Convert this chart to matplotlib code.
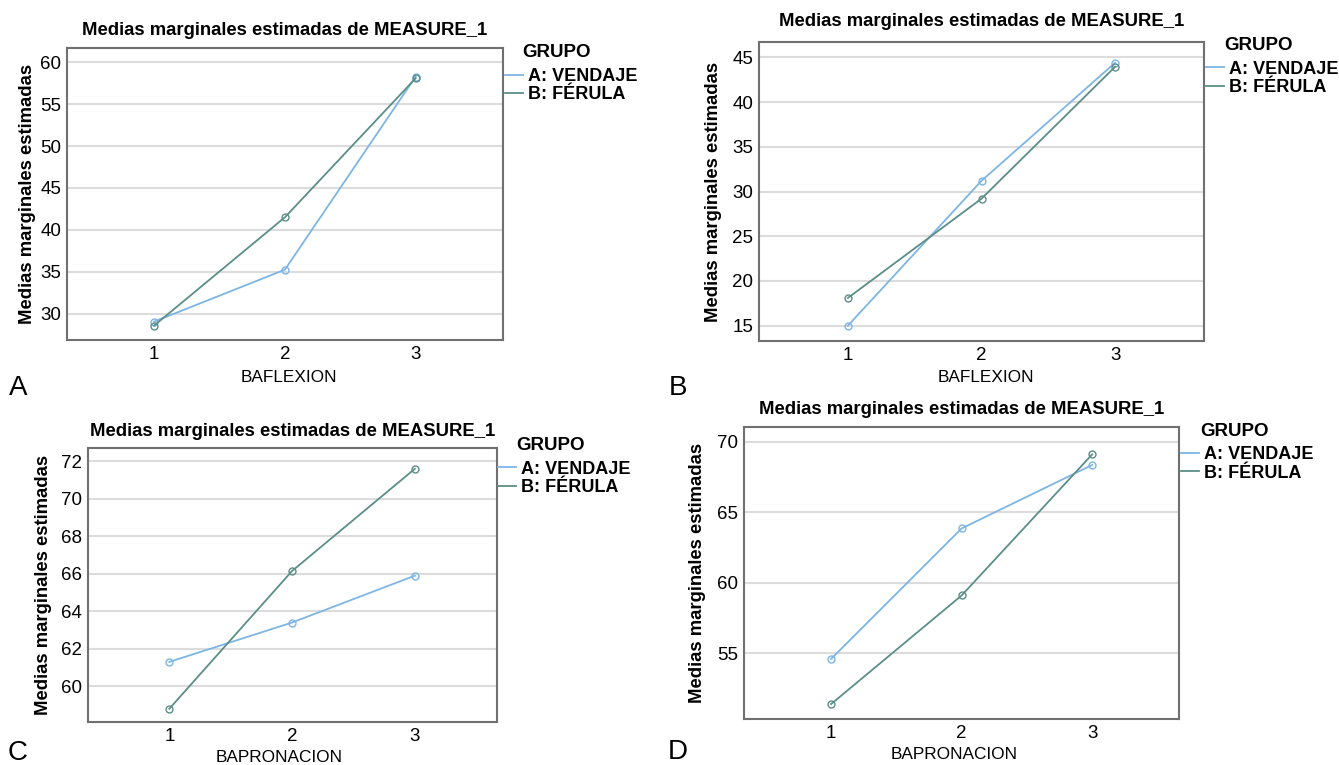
import matplotlib
matplotlib.use("Agg")
import matplotlib.pyplot as plt
from matplotlib.lines import Line2D

plt.rcParams['font.family'] = ['Liberation Sans', 'DejaVu Sans']

# niveles del factor (1, 2, 3)
niveles = [1, 2, 3]
grupos = ['A: VENDAJE', 'B: FÉRULA']

# medias marginales estimadas
a_vendaje = [29.05, 35.25, 58.3]
a_ferula = [28.57, 41.5, 58.1]
b_vendaje = [15.0, 31.2, 44.4]
b_ferula = [18.1, 29.2, 43.95]
c_vendaje = [61.3, 63.4, 65.9]
c_ferula = [58.8, 66.15, 71.6]
d_vendaje = [54.6, 63.85, 68.35]
d_ferula = [51.4, 59.1, 69.1]

ticks_a = [30, 35, 40, 45, 50, 55, 60]
ticks_b = [15, 20, 25, 30, 35, 40, 45]
ticks_c = [60, 62, 64, 66, 68, 70, 72]
ticks_d = [55, 60, 65, 70]

titulo = 'Medias marginales estimadas de MEASURE_1'
ylabel = 'Medias marginales estimadas'

COL_VEND = '#7db5e5'
COL_FER = '#5b8e87'
W, H = 1339, 765

fig = plt.figure(figsize=(W / 100, H / 100), dpi=100)


def ax_px(left, top, right, bottom):
    """crea un eje a partir de coordenadas en píxeles"""
    return fig.add_axes([left / W, (H - bottom) / H, (right - left) / W, (bottom - top) / H])


def panel(ax, vend, fer, ticks, ylim, xlabel, title_pad,
          ylab_x, xlab_xy, grupo_xy, leg_xy, letra, letra_xy):
    ax.plot(niveles, vend, color=COL_VEND, lw=1.3, marker='o', ms=5,
            mfc='none', mew=1.0, zorder=3)
    ax.plot(niveles, fer, color=COL_FER, lw=1.3, marker='o', ms=5,
            mfc='none', mew=1.0, zorder=3)

    ax.set_xlim(0.335, 3.667)
    ax.set_ylim(*ylim)
    ax.set_xticks(niveles)
    ax.set_yticks(ticks)
    ax.tick_params(length=0, labelsize=13.5, pad=4.3)
    ax.grid(axis='y', color='#dcdcdc', lw=1.5)
    ax.set_axisbelow(True)
    for s in ax.spines.values():
        s.set_color('#707070')
        s.set_linewidth(1.5)

    ax.set_title(titulo, fontsize=13.3, fontweight='bold', pad=title_pad)
    ax.set_ylabel(ylabel, fontsize=13.3, fontweight='bold')
    ax.yaxis.set_label_coords(ylab_x, 0.5)
    ax.set_xlabel(xlabel, fontsize=12.4)
    ax.xaxis.set_label_coords(*xlab_xy)

    ax.text(grupo_xy[0], grupo_xy[1], 'GRUPO', transform=ax.transAxes,
            fontsize=13.5, fontweight='bold', ha='left', va='center')
    # la leyenda solo muestra líneas, sin marcadores
    handles = [Line2D([], [], color=COL_VEND, lw=1.3),
               Line2D([], [], color=COL_FER, lw=1.3)]
    ax.legend(handles, grupos, loc='upper left', bbox_to_anchor=leg_xy,
              frameon=False, borderpad=0, borderaxespad=0, labelspacing=0.08,
              handlelength=1.0, handletextpad=0.3,
              prop={'size': 13, 'weight': 'bold'})

    fig.text(letra_xy[0] / W, 1 - letra_xy[1] / H, letra, fontsize=20,
             ha='center', va='center')


ax_a = ax_px(67, 47.7, 503, 340)
panel(ax_a, a_vendaje, a_ferula, ticks_a, (26.86, 61.74), 'BAFLEXION', 8.9,
      -0.072, (0.508, -0.103), (1.0436, 0.982), (1.0046, 0.9305), 'A', (18, 388))

ax_b = ax_px(759, 42.3, 1204.3, 341)
panel(ax_b, b_vendaje, b_ferula, ticks_b, (13.29, 46.68), 'BAFLEXION', 11.7,
      -0.084, (0.509, -0.097), (1.0442, 0.988), (1.0038, 0.938), 'B', (678, 388))

ax_c = ax_px(87.7, 448, 496.7, 721.7)
panel(ax_c, c_vendaje, c_ferula, ticks_c, (58.11, 72.71), 'BAPRONACION', 8.6,
      -0.0885, (0.469, -0.103), (1.0489, 1.008), (1.0032, 0.9536), 'C', (18, 753))

ax_d = ax_px(744.3, 426.7, 1179.3, 719.3)
panel(ax_d, d_vendaje, d_ferula, ticks_d, (50.32, 71.06), 'BAPRONACION', 8.9,
      -0.087, (0.483, -0.095), (1.0476, 0.983), (1.0039, 0.933), 'D', (678, 752))

fig.savefig('out.png', dpi=100)
